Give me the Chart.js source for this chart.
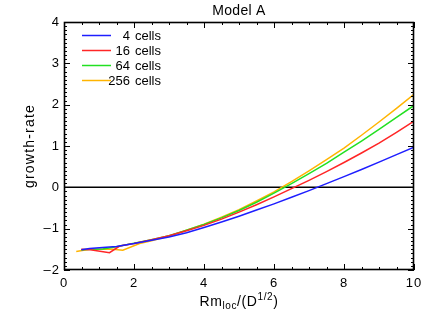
<!DOCTYPE html>
<html>
<head>
<meta charset="utf-8">
<script src="https://cdn.jsdelivr.net/npm/chart.js@4.4.1/dist/chart.umd.min.js"></script>
<style>
  html, body { margin: 0; padding: 0; background: #fff; }
  #wrap { width: 436px; height: 312px; }
</style>
</head>
<body>
<div id="wrap"><canvas id="chart" width="436" height="312"></canvas></div>
<script>
// Data (x = Rm_loc / D^1/2, y = growth-rate)
const labels = ['4 cells', '16 cells', '64 cells', '256 cells'];

const x4   = [0.5, 0.73, 1.2, 1.5, 2, 2.5, 3, 3.5, 4, 4.5, 5, 5.5, 6, 6.5, 7, 7.5, 8, 8.5, 9, 9.5, 10];
const y4   = [-1.51, -1.48, -1.45, -1.43, -1.36, -1.28, -1.2, -1.1, -0.97, -0.84, -0.7, -0.55, -0.4, -0.24, -0.08, 0.09, 0.26, 0.43, 0.61, 0.79, 0.97];

const x16  = [0.49, 0.75, 1.3, 1.59, 2, 2.5, 3, 3.5, 4, 4.5, 5, 5.5, 6, 6.5, 7, 7.5, 8, 8.5, 9, 9.5, 10];
const y16  = [-1.5, -1.51, -1.58, -1.42, -1.36, -1.27, -1.17, -1.05, -0.92, -0.77, -0.6, -0.42, -0.23, -0.03, 0.17, 0.38, 0.6, 0.83, 1.07, 1.33, 1.6];

const x64  = [0.49, 0.8, 1.11, 1.5, 2, 2.5, 3, 3.5, 4, 4.5, 5, 5.5, 6, 6.5, 7, 7.5, 8, 8.5, 9, 9.5, 10];
const y64  = [-1.51, -1.5, -1.49, -1.44, -1.35, -1.27, -1.17, -1.04, -0.9, -0.74, -0.56, -0.36, -0.14, 0.09, 0.33, 0.58, 0.85, 1.12, 1.4, 1.69, 1.98];

const x256 = [0.35, 0.73, 1.4, 1.68, 2.16, 2.5, 3, 3.5, 4, 4.5, 5, 5.5, 6, 6.5, 7, 7.5, 8, 8.5, 9, 9.5, 10];
const y256 = [-1.55, -1.5, -1.5, -1.52, -1.36, -1.29, -1.18, -1.04, -0.89, -0.72, -0.54, -0.33, -0.11, 0.14, 0.4, 0.67, 0.95, 1.26, 1.58, 1.91, 2.25];

const colors = ['#1e1eff', '#ff2626', '#22e022', '#ffb400'];

const xRange = [0, 10], xStep = 2, xMinor = 0.5;
const yRange = [-2, 4], yStep = 1, yMinor = 0.1;

const FONT = '"Liberation Sans", Arial, Helvetica, sans-serif';

const pts = (xs, ys) => xs.map((v, i) => ({ x: v, y: ys[i] }));
const series = [[x4, y4], [x16, y16], [x64, y64], [x256, y256]];

const datasets = series.map(([xs, ys], i) => ({
  label: labels[i],
  data: pts(xs, ys),
  borderColor: colors[i],
  borderWidth: 1.5,
  pointRadius: 0,
  tension: 0
}));
// zero line
datasets.push({
  label: 'zero',
  hideInLegend: true,
  data: pts(xRange, [0, 0]),
  borderColor: '#000',
  borderWidth: 1.5,
  pointRadius: 0
});

// IDL-style frame: box, inward ticks on all four sides, titles and legend
const idlFrame = {
  id: 'idlFrame',
  beforeDraw(chart) { chart.ctx.letterSpacing = '1px'; },
  afterDraw(chart) {
    const { ctx, chartArea: a, scales: { x, y } } = chart;
    ctx.save();
    ctx.letterSpacing = '0px';
    ctx.strokeStyle = '#000';
    ctx.lineWidth = 1.6;
    ctx.strokeRect(a.left + 0.5, a.top + 0.5, a.right - a.left - 1, a.bottom - a.top - 1);

    ctx.lineWidth = 1;
    ctx.beginPath();
    const ny = Math.round((yRange[1] - yRange[0]) / yMinor);
    for (let k = 0; k <= ny; k++) {
      const v = yRange[0] + k * yMinor;
      const len = (k % Math.round(yStep / yMinor) === 0) ? 6 : 3;
      const py = Math.round(y.getPixelForValue(v)) + 0.5;
      ctx.moveTo(a.left, py); ctx.lineTo(a.left + len, py);
      ctx.moveTo(a.right, py); ctx.lineTo(a.right - len, py);
    }
    const nx = Math.round((xRange[1] - xRange[0]) / xMinor);
    for (let k = 0; k <= nx; k++) {
      const v = xRange[0] + k * xMinor;
      const len = (k % Math.round(xStep / xMinor) === 0) ? 6 : 3;
      const px = Math.round(x.getPixelForValue(v)) + 0.5;
      ctx.moveTo(px, a.bottom); ctx.lineTo(px, a.bottom - len);
      ctx.moveTo(px, a.top); ctx.lineTo(px, a.top + len);
    }
    ctx.stroke();

    ctx.fillStyle = '#000';
    const cx = (a.left + a.right) / 2;

    // title
    ctx.font = '14px ' + FONT;
    ctx.letterSpacing = '0.3px';
    ctx.textAlign = 'center';
    ctx.textBaseline = 'alphabetic';
    ctx.fillText('Model A', cx, 15);

    // x title: Rm_loc/(D^1/2)
    const big = '14px ' + FONT, small = '10px ' + FONT;
    const parts = [['Rm', big, 0], ['loc', small, 3], ['/(D', big, 0], ['1/2', small, -6], [')', big, 0]];
    ctx.letterSpacing = '0.6px';
    let total = 0;
    parts.forEach(p => { ctx.font = p[1]; total += ctx.measureText(p[0]).width; });
    let tx = cx - total / 2;
    ctx.textAlign = 'left';
    parts.forEach(p => {
      ctx.font = p[1];
      ctx.fillText(p[0], tx, 306 + p[2]);
      tx += ctx.measureText(p[0]).width;
    });

    // y title
    ctx.save();
    ctx.translate(34, (a.top + a.bottom) / 2);
    ctx.rotate(-Math.PI / 2);
    ctx.font = '14px ' + FONT;
    ctx.letterSpacing = '1.2px';
    ctx.textAlign = 'center';
    ctx.fillText('growth-rate', 0, 0);
    ctx.restore();

    // legend
    ctx.font = '13px ' + FONT;
    ctx.letterSpacing = '0px';
    ctx.textBaseline = 'middle';
    chart.data.datasets.filter(d => !d.hideInLegend).forEach((d, i) => {
      const ly = 35.5 + i * 15;
      ctx.strokeStyle = d.borderColor;
      ctx.lineWidth = 1.5;
      ctx.beginPath(); ctx.moveTo(82, ly); ctx.lineTo(111, ly); ctx.stroke();
      const [num, word] = d.label.split(' ');
      ctx.textAlign = 'right';
      ctx.fillText(num, 130, ly + 1);
      ctx.textAlign = 'left';
      ctx.fillText(word, 135, ly + 1);
    });
    ctx.restore();
  }
};

const tickFont = { family: FONT, size: 13 };

new Chart(document.getElementById('chart'), {
  type: 'line',
  data: { datasets },
  options: {
    responsive: false,
    animation: false,
    devicePixelRatio: 1,
    layout: { padding: { top: 22, right: 22, left: 0, bottom: 0 } },
    plugins: { legend: { display: false }, tooltip: { enabled: false }, title: { display: false } },
    scales: {
      x: {
        type: 'linear', min: xRange[0], max: xRange[1],
        grid: { display: false, drawTicks: false },
        border: { display: false },
        ticks: { stepSize: xStep, color: '#000', font: tickFont, padding: 6, maxRotation: 0 },
        afterFit: s => { s.height = 42; }
      },
      y: {
        type: 'linear', min: yRange[0], max: yRange[1],
        grid: { display: false, drawTicks: false },
        border: { display: false },
        ticks: {
          stepSize: yStep, color: '#000', font: tickFont, padding: 4,
          callback: v => v < 0 ? '\u2013' + Math.abs(v) : String(v)
        },
        afterFit: s => { s.width = 64; }
      }
    }
  },
  plugins: [idlFrame]
});
</script>
</body>
</html>
